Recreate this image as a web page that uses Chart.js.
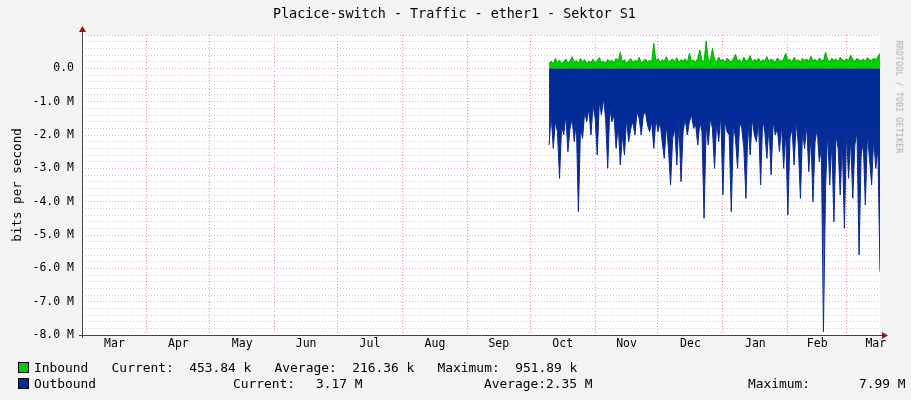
<!DOCTYPE html>
<html><head><meta charset="utf-8">
<script src="https://cdn.jsdelivr.net/npm/chart.js@4/dist/chart.umd.min.js"></script>
<style>
body{margin:0;background:#f3f3f3;width:911px;height:400px;overflow:hidden;position:relative;font-family:"DejaVu Sans Mono",monospace;color:#000}
#c{position:absolute;left:0;top:0}
.t{position:absolute;white-space:pre;font-size:12.9px;line-height:14px}
.sq{position:absolute;width:9px;height:9px;border:1px solid #000}
</style></head><body>
<canvas id="c" width="911" height="400"></canvas>
<div class="t" style="left:273px;top:7px;font-size:13.4px">Placice-switch - Traffic - ether1 - Sektor S1</div>
<div class="t" style="left:-40px;top:178px;transform:rotate(-90deg);font-size:12.6px">bits per second</div>
<div class="t" style="left:842px;top:90px;transform:rotate(90deg);font-size:8px;color:#aaa;letter-spacing:0.3px">RRDTOOL / TOBI OETIKER</div>
<div class="sq" style="left:18px;top:362px;background:#00cc00"></div>
<div class="sq" style="left:18px;top:378px;background:#002a97"></div>
<div class="t" style="left:34px;top:361px">Inbound   Current:  453.84 k   Average:  216.36 k   Maximum:  951.89 k</div>
<div class="t" style="left:34px;top:377px">Outbound</div>
<div class="t" style="left:233px;top:377px">Current:</div>
<div class="t" style="left:316px;top:377px">3.17 M</div>
<div class="t" style="left:484px;top:377px">Average:</div>
<div class="t" style="left:546px;top:377px">2.35 M</div>
<div class="t" style="left:748px;top:377px">Maximum:</div>
<div class="t" style="left:859px;top:377px">7.99 M</div>
<script>
// time axis in days since Mar 1
const monthNames = ["Mar","Apr","May","Jun","Jul","Aug","Sep","Oct","Nov","Dec","Jan","Feb","Mar"];
const monthStarts = [0,31,61,92,122,153,184,214,245,275,306,337,365];
const labelDays = [15.5,46,76.5,107,137.5,168.5,199,229.5,260,290.5,321.5,351,379];
const dataStartDay = 223;
const outboundM = [
-2.3,-1.4,-2.4,-1.6,-1.9,-3.3,-1.7,-2.0,-1.4,-2.5,
-1.8,-1.5,-2.2,-1.6,-4.3,-1.8,-2.1,-1.3,-1.6,-1.2,
-2.0,-1.1,-1.5,-2.6,-1.0,-1.4,-0.9,-1.5,-3.0,-1.2,
-1.6,-1.4,-2.4,-1.7,-2.9,-2.0,-2.6,-1.5,-2.2,-1.8,
-1.6,-2.0,-1.3,-1.5,-2.0,-1.4,-1.3,-1.7,-1.9,-1.6,
-2.4,-1.5,-1.9,-1.6,-2.2,-2.7,-1.7,-2.4,-3.5,-2.1,
-1.8,-2.9,-1.6,-3.4,-1.9,-1.5,-2.0,-1.6,-1.4,-1.8,
-1.7,-2.3,-1.6,-1.9,-4.5,-1.7,-2.3,-1.5,-1.8,-3.0,
-1.6,-2.2,-1.4,-3.8,-1.6,-1.9,-2.0,-4.3,-1.7,-2.1,
-3.0,-1.6,-1.8,-2.4,-3.9,-1.6,-2.6,-1.5,-2.0,-2.2,
-1.6,-3.5,-1.5,-1.9,-2.7,-1.7,-3.2,-1.6,-2.0,-1.8,
-2.5,-1.7,-3.0,-1.9,-4.4,-2.1,-1.8,-2.9,-1.6,-2.3,
-3.9,-1.9,-2.4,-1.7,-3.1,-2.0,-4.0,-2.2,-1.8,-2.8,
-2.4,-7.9,-3.6,-1.9,-3.5,-2.2,-4.6,-2.0,-2.4,-3.8,
-2.2,-4.8,-1.9,-3.3,-2.1,-3.9,-2.3,-1.9,-5.6,-2.6,
-2.2,-4.1,-2.0,-2.7,-3.5,-2.1,-3.0,-2.4,-6.1];
const inboundM = [
0.15,0.22,0.12,0.30,0.18,0.25,0.14,0.20,0.28,0.16,
0.22,0.35,0.18,0.24,0.15,0.30,0.20,0.26,0.14,0.22,
0.18,0.28,0.16,0.24,0.32,0.18,0.22,0.15,0.27,0.20,
0.25,0.17,0.30,0.21,0.48,0.19,0.26,0.16,0.23,0.29,
0.18,0.24,0.20,0.33,0.17,0.22,0.28,0.19,0.25,0.18,
0.75,0.22,0.30,0.18,0.26,0.21,0.35,0.19,0.24,0.28,
0.20,0.32,0.18,0.26,0.22,0.29,0.17,0.45,0.21,0.25,
0.19,0.30,0.55,0.24,0.20,0.82,0.28,0.22,0.60,0.26,
0.19,0.34,0.22,0.27,0.18,0.31,0.24,0.20,0.29,0.42,
0.22,0.26,0.18,0.33,0.21,0.25,0.38,0.20,0.27,0.23,
0.30,0.19,0.26,0.22,0.35,0.20,0.28,0.24,0.18,0.31,
0.25,0.21,0.29,0.45,0.23,0.27,0.20,0.33,0.22,0.26,
0.19,0.30,0.24,0.28,0.21,0.36,0.23,0.27,0.20,0.31,
0.25,0.22,0.48,0.26,0.21,0.30,0.24,0.28,0.20,0.33,
0.26,0.22,0.29,0.24,0.40,0.27,0.21,0.30,0.25,0.23,
0.28,0.22,0.32,0.26,0.24,0.30,0.27,0.35,0.45];

const outPts = outboundM.map((v,i)=>({x:dataStartDay+i,y:v*1e6}));
const inPts = inboundM.map((v,i)=>({x:dataStartDay+i,y:v*1e6}));
const xTicks = [...monthStarts.map(v=>({value:v})), ...labelDays.map(v=>({value:v}))];

const deco = {id:'deco',
 beforeDraw(ch){const c=ch.ctx,a=ch.chartArea;c.save();c.fillStyle='#fff';c.fillRect(a.left,a.top,a.right-a.left,a.bottom-a.top);c.restore();},
 afterDraw(ch){
  const c=ch.ctx,a=ch.chartArea;
  c.save();c.strokeStyle='#444';c.lineWidth=1;
  c.beginPath();c.moveTo(a.left+0.5,a.bottom+3);c.lineTo(a.left+0.5,a.top-6);
  c.moveTo(a.left-3,a.bottom+0.5);c.lineTo(a.right+4,a.bottom+0.5);c.stroke();
  c.fillStyle='#8b1a1a';
  c.beginPath();c.moveTo(a.left-3,a.top-3);c.lineTo(a.left+4,a.top-3);c.lineTo(a.left+0.5,a.top-9);c.fill();
  c.beginPath();c.moveTo(a.right+2,a.bottom-3);c.lineTo(a.right+2,a.bottom+4);c.lineTo(a.right+8,a.bottom+0.5);c.fill();
  c.restore();
}};

const ctx=document.getElementById('c').getContext('2d');
new Chart(ctx,{
  type:'line',
  data:{datasets:[
    {label:'Inbound',data:inPts,borderColor:'#00b000',borderWidth:1,backgroundColor:'#00d000',fill:'origin',pointRadius:0,tension:0},
    {label:'Outbound',data:outPts,borderColor:'#0a2a90',borderWidth:1,
     backgroundColor:(c)=>{const a=c.chart.chartArea;if(!a)return '#002a97';const s=c.chart.scales.y;
       const g=c.chart.ctx.createLinearGradient(0,s.getPixelForValue(0),0,s.getPixelForValue(-8e6));
       g.addColorStop(0,'#002a97');g.addColorStop(0.55,'#0a2e98');g.addColorStop(1,'#d8ddf0');return g;},
     fill:'origin',pointRadius:0,tension:0}
  ]},
  options:{responsive:false,animation:false,
    layout:{padding:{left:0,right:31,top:35,bottom:45}},
    plugins:{legend:{display:false},tooltip:{enabled:false}},
    scales:{
      x:{type:'linear',min:0,max:381,
        afterBuildTicks:s=>{s.ticks=xTicks.map(t=>({...t}));},
        afterFit:s=>{s.height=20;},
        ticks:{autoSkip:false,maxRotation:0,padding:2,color:'#000',font:{family:'DejaVu Sans Mono',size:11.5},
          callback:(v)=>{const i=labelDays.indexOf(v);return i>=0?monthNames[i]:'';}},
        grid:{drawTicks:false,color:c=>(c.tick&&monthStarts.includes(c.tick.value))?'rgba(235,120,120,0.8)':'rgba(255,255,255,0)'},
        border:{display:false,dash:[1,2]}},
      y:{min:-8e6,max:1e6,
        afterBuildTicks:s=>{const t=[];for(let k=-40;k<=5;k++)t.push({value:k*2e5});s.ticks=t;},
        afterFit:s=>{s.width=82;},
        ticks:{autoSkip:false,padding:8,color:'#000',font:{family:'DejaVu Sans Mono',size:11.5},
          callback:(v)=>{const m=Math.round(v/1e5);if(m%10!==0||m>0)return '';return m===0?'0.0':(m/10).toFixed(1)+' M';}},
        grid:{drawTicks:false,color:c=>{const m=Math.round(c.tick.value/1e5);return m%10===0?'rgba(230,150,150,0.8)':'rgba(190,190,190,0.8)';}},
        border:{display:false,dash:[1,2]}}
    }},
  plugins:[deco]
});
</script></body></html>
